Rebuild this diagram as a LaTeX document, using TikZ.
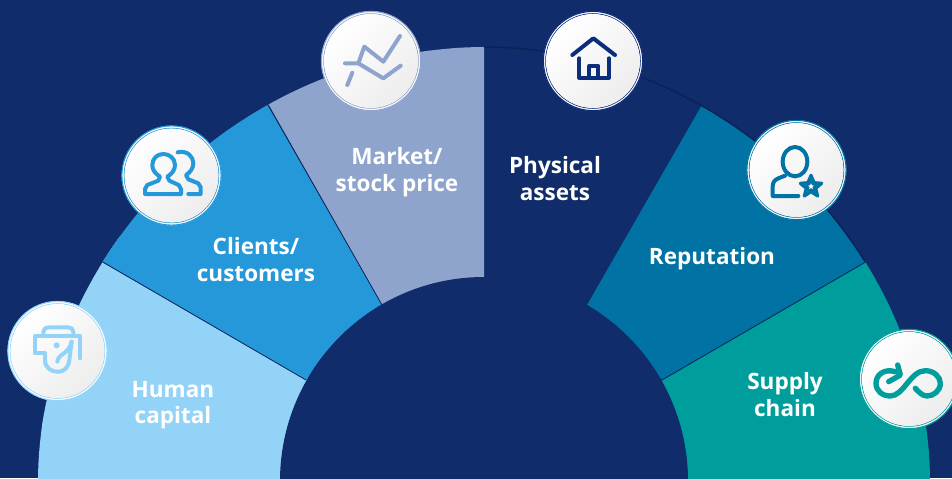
\documentclass[tikz,border=0pt]{standalone}
\usepackage{fontspec}
\setmainfont{Open Sans}
\definecolor{bgblue}{HTML}{102C6B}
\definecolor{edgeblue}{HTML}{0B2258}
\definecolor{humanc}{HTML}{93D3F8}
\definecolor{clientc}{HTML}{2598DA}
\definecolor{marketc}{HTML}{8FA4CD}
\definecolor{housec}{HTML}{0C2C7C}
\definecolor{repc}{HTML}{0072A3}
\definecolor{supplyc}{HTML}{009D9D}
\tikzset{
  label text/.style={text=white,font=\fontsize{16.9}{19.9}\selectfont\bfseries,align=center,inner sep=0pt},
  sep line/.style={draw=edgeblue,line width=0.6pt},
  icon line/.style={line width=3pt,line cap=round,line join=round},
}
\newcommand{\badge}[4]{%
  \fill[white] (#2,#3) circle [radius=49.8];
  \draw[#4,line width=0.8pt] (#2,#3) circle [radius=49.6];
  \draw[#4,line width=0.7pt] (#2,#3) circle [radius=47.3];
  \shade[top color=white,bottom color=black!7,shading angle=45] (#2,#3) circle [radius=47];
  \node[inner sep=0pt,minimum size=0pt] (#1) at (#2,#3) {};
}
\begin{document}
\begin{tikzpicture}[x=0.75pt,y=-0.75pt]
\useasboundingbox (0,0) rectangle (952,478);
\fill[bgblue] (0,0) rectangle (952,478);
\begin{scope}
  \clip (38,500) -- plot[domain=0.01:89.99,samples=70] ({484-446*cos(\x)^1.0256},{481-434*sin(\x)^1.0256}) -- plot[domain=89.99:0.01,samples=70] ({484+446*cos(\x)^1.0256},{481-434*sin(\x)^1.0256}) -- (930,500) -- cycle;
  \fill[humanc] (0,500) -- (0,155) -- (484,481) -- (280,500) -- cycle;
  \fill[clientc] (306,380) -- (102,262) -- (20,214) -- (0,0) -- (210,5) -- (382,305) -- cycle;
  \fill[marketc] (382,305) -- (220,20) -- (484,0) -- (484,277) -- cycle;
  \fill[repc] (587,305) -- (745,30) -- (952,212) -- (662,380) -- cycle;
  \fill[supplyc] (662,380) -- (952,212) -- (952,500) -- (680,500) -- cycle;
  \draw[sep line] (306,380) -- (20,214);
  \draw[sep line] (382,305) -- (220,20);
  \draw[sep line] (662,380) -- (952,212);
\end{scope}
\draw[edgeblue,line width=1.1pt] plot[domain=31:90,samples=40] ({484+446*cos(\x)^1.0256},{481-434*sin(\x)^1.0256});
\fill[bgblue] (484,481) circle [radius=204];

\node[label text] (humantxt) at (173,405) {Human\\capital};
\node[label text] (clienttxt) at (256,259.5) {Clients/\\customers};
\node[label text] (markettxt) at (397,172) {Market/\\stock price};
\node[label text] (physicaltxt) at (555,178.5) {Physical\\assets};
\node[label text] (reptxt) at (712,259) {Reputation};
\node[label text] (supplytxt) at (785,394.5) {Supply\\chain};

\badge{humanb}{57.5}{351}{humanc}
\begin{scope}[shift={(0,290)},x=0.25pt,y=-0.25pt,humanc,icon line]
  \draw (130,135) -- (130,125) to[out=90,in=180] (145,112) -- (205,112) to[out=0,in=90] (220,125) -- (220,135);
  \draw (135,190) -- (105,190) -- (105,138) -- (240,138) -- (240,205);
  \draw (135,190) -- (135,210) .. controls (135,235) and (155,245) .. (172,245) .. controls (195,245) and (205,232) .. (208,210) -- (215,155);
  \draw (172,215) .. controls (175,190) and (205,195) .. (215,155);
  \fill (170,166) circle [radius=9];
\end{scope}

\badge{clientb}{171.5}{175.5}{clientc}
\begin{scope}[shift={(110,120)},x=0.25pt,y=-0.25pt,clientc,icon line]
  \draw (105,222) -- (105,207) -- (112,195) -- (145,182) -- (150,170) .. controls (135,160) and (127,150) .. (127,135) .. controls (127,115) and (142,102) .. (160,102) .. controls (178,102) and (195,115) .. (195,135) .. controls (195,150) and (185,162) .. (172,170) -- (178,182) -- (206,195) -- (213,207) -- (213,222) -- cycle;
  \draw (203,97) .. controls (232,90) and (250,110) .. (250,130) .. controls (250,145) and (240,158) .. (228,165) -- (235,178) -- (265,190) -- (272,202) -- (272,222) -- (235,222);
\end{scope}

\badge{marketb}{371}{61}{marketc}
\begin{scope}[shift={(310,0)},x=0.25pt,y=-0.25pt,marketc,icon line]
  \draw (105,190) -- (145,190) -- (163,140) -- (220,185) -- (270,108);
  \draw (145,190) -- (220,235) -- (272,197);
  \draw (112,255) -- (127,218);
\end{scope}

\badge{houseb}{593}{61}{housec}
\begin{scope}[shift={(535,0)},x=0.25pt,y=-0.25pt,housec,icon line]
  \draw (112,165) -- (175,115) -- (240,165);
  \draw (133,175) -- (133,233) -- (222,233) -- (222,175);
  \draw (163,233) -- (163,198) -- (190,198) -- (190,233);
\end{scope}

\badge{repb}{796.5}{170}{repc}
\begin{scope}[shift={(735,110)},x=0.25pt,y=-0.25pt,repc,icon line]
  \draw (180,155) ellipse [x radius=37,y radius=44];
  \draw (150,197) -- (130,205) .. controls (118,210) and (113,218) .. (113,230) -- (113,258) -- (190,258);
  \draw[fill=repc,line width=2.4pt] (228,196) -- (237,218) -- (260,220) -- (242,235) -- (248,258) -- (228,245) -- (208,258) -- (214,235) -- (196,220) -- (219,218) -- cycle;
  \fill[white] (228,220) -- (231,226) -- (237,227) -- (232,231) -- (234,237) -- (228,234) -- (222,237) -- (224,231) -- (219,227) -- (225,226) -- cycle;
\end{scope}

\badge{supplyb}{909}{379}{supplyc}
\begin{scope}[shift={(832,320)},x=0.25pt,y=-0.25pt,supplyc,line width=4pt,line cap=round,line join=round]
  \draw (197,135) -- (205,165) -- (170,185);
  \draw (190,155) .. controls (155,145) and (132,165) .. (132,190) .. controls (132,212) and (150,228) .. (175,228) .. controls (215,228) and (235,152) .. (280,152) .. controls (305,152) and (325,170) .. (325,190) .. controls (325,212) and (305,228) .. (285,228) .. controls (270,228) and (260,215) .. (250,205);
\end{scope}
\end{tikzpicture}
\end{document}
